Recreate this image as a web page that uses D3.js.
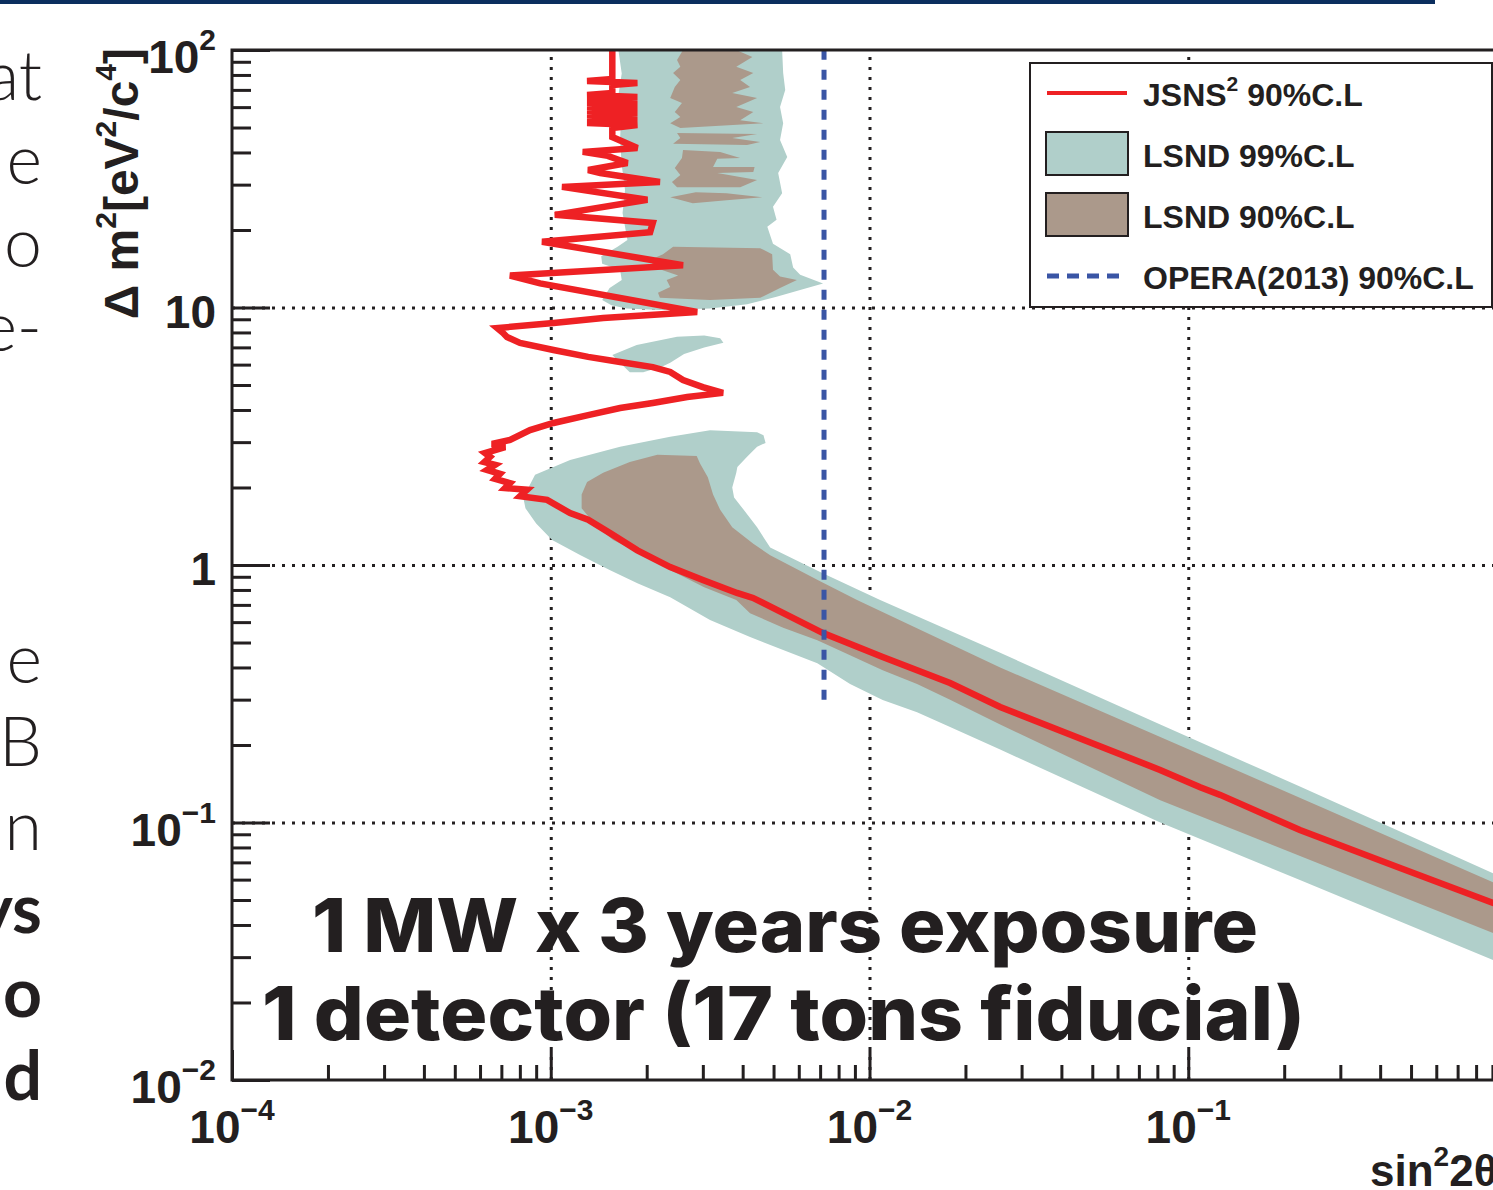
<!DOCTYPE html>
<html>
<head>
<meta charset="utf-8">
<script src="https://cdn.jsdelivr.net/npm/d3@7"></script>
<style>
  body { margin: 0; background: #fff; }
  svg { display: block; }
  .lbl { font-family: "Liberation Sans", Arial, sans-serif; font-weight: bold; fill: #231f20; }
</style>
</head>
<body>
<div id="chart"></div>
<script>
// axis ranges and ticks
const xDomain = [1e-4, 1];
const yDomain = [1e-2, 1e2];
const xMajorTicks = [1e-4, 1e-3, 1e-2, 1e-1];
const xTickExponents = ["\u22124", "\u22123", "\u22122", "\u22121"];
const yMajorTicks = [1e-2, 1e-1, 1, 10, 100];
const yTickBases = ["10", "10", "1", "10", "10"];
const yTickExponents = ["\u22122", "\u22121", "", "", "2"];
const gridX = [1e-3, 1e-2, 1e-1];
const gridY = [1e-1, 1, 10];

// LSND 99% C.L. contours  [sin^2 2theta, dm^2]
const lsnd99Upper = [
  [1.63e-3,100],[1.67e-3,81],[1.63e-3,66.8],[1.66e-3,53.4],[1.65e-3,44.7],[1.67e-3,35.8],[1.71e-3,28.6],
  [1.68e-3,23.3],[1.74e-3,18.3],[1.62e-3,17.2],[1.44e-3,15.8],[1.45e-3,14.8],[1.65e-3,14.0],[1.67e-3,12.8],
  [1.53e-3,11.9],[1.45e-3,10.7],[1.55e-3,10.2],[1.73e-3,9.9],[2.20e-3,9.78],[3.16e-3,9.9],[4.13e-3,10.3],
  [5.11e-3,11.0],[6.06e-3,11.7],[7.15e-3,12.4],[6.06e-3,13.4],[5.76e-3,14.3],[5.64e-3,16.1],[4.98e-3,17.7],
  [4.78e-3,20.6],[5.11e-3,21.9],[4.98e-3,24.6],[5.32e-3,27.8],[5.17e-3,33.3],[5.52e-3,38.4],[5.24e-3,44.7],
  [5.36e-3,52.0],[5.24e-3,60.1],[5.44e-3,69.9],[5.36e-3,81.4],[5.32e-3,100]
];
const lsnd99Island = [
  [1.56e-3,6.54],[1.86e-3,7.15],[2.49e-3,7.7],[3.03e-3,7.78],[3.40e-3,7.6],[3.48e-3,7.3],[3.03e-3,7.0],
  [2.62e-3,6.6],[2.37e-3,6.1],[2.24e-3,5.9],[1.95e-3,5.6],[1.77e-3,5.6],[1.65e-3,6.1]
];
const lsnd99Main = [
  [8.93e-4,2.24],[1.15e-3,2.56],[1.65e-3,2.88],[2.37e-3,3.15],[3.16e-3,3.34],[4.44e-3,3.28],[4.65e-3,3.19],
  [4.72e-3,2.98],[4.44e-3,2.88],[4.13e-3,2.63],[3.85e-3,2.40],[3.82e-3,2.28],[3.71e-3,2.0],[3.76e-3,1.83],
  [4.03e-3,1.64],[4.44e-3,1.40],[4.88e-3,1.17],[7.00e-3,0.94],[1.08e-2,0.731],[2.57e-2,0.456],[8.17e-2,0.240],
  [0.224,0.138],[0.906,0.0635],[1.0,0.0600],
  [1.0,0.0279],[0.906,0.0292],[0.224,0.0598],[8.17e-2,0.100],[2.57e-2,0.192],[1.79e-2,0.235],[1.41e-2,0.268],
  [1.10e-2,0.299],[8.69e-3,0.345],[6.86e-3,0.415],[5.36e-3,0.468],[4.22e-3,0.525],[3.16e-3,0.611],[2.37e-3,0.75],
  [1.87e-3,0.85],[1.53e-3,0.956],[1.24e-3,1.09],[1.01e-3,1.25],[9.0e-4,1.45],[8.33e-4,1.66],[8.2e-4,1.83]
];

// LSND 90% C.L. contours
const lsnd90StripA = [
  [2.60e-3,100],[2.49e-3,91.5],[2.55e-3,86],[2.42e-3,81.4],[2.55e-3,76.4],[2.45e-3,71.8],[2.37e-3,65.1],
  [2.58e-3,62.2],[2.45e-3,57.4],[2.55e-3,54.9],[2.37e-3,52.0],[2.55e-3,49.8],[4.65e-3,52.0],[3.93e-3,53.4],
  [4.32e-3,57.4],[3.82e-3,60.1],[4.44e-3,65.1],[3.71e-3,68.1],[4.22e-3,71.8],[3.93e-3,76.4],[4.32e-3,81.4],
  [3.82e-3,86],[4.29e-3,94.0],[3.82e-3,100]
];
const lsnd90StripB = [
  [2.49e-3,47.6],[4.44e-3,47.2],[3.71e-3,45.5],[4.54e-3,43.9],[4.13e-3,42.8],[2.42e-3,43.2],[2.55e-3,45.5]
];
const lsnd90StripC = [
  [2.60e-3,40.9],[3.40e-3,40.2],[3.93e-3,38.1],[3.33e-3,37.8],[3.23e-3,35.1],[4.36e-3,35.1],[4.32e-3,33.6],
  [3.33e-3,33.3],[4.44e-3,31.3],[3.93e-3,29.3],[2.49e-3,29.3],[2.40e-3,30.7],[2.55e-3,32.7],[2.45e-3,34.8],
  [2.58e-3,38.1]
];
const lsnd90StripD = [
  [2.37e-3,26.8],[2.85e-3,28.0],[3.56e-3,27.8],[4.61e-3,26.8],[3.56e-3,26.1],[2.79e-3,25.4]
];
const lsnd90Blob = [
  [2.42e-3,17.2],[4.54e-3,17.0],[4.95e-3,16.1],[4.98e-3,14.0],[5.24e-3,13.2],[5.92e-3,12.8],[5.24e-3,11.9],
  [4.54e-3,10.9],[3.16e-3,10.7],[2.20e-3,10.9],[2.17e-3,11.4],[2.37e-3,12.0],[2.31e-3,12.8],[2.51e-3,13.3],
  [2.12e-3,14.3],[2.05e-3,15.3],[2.25e-3,16.1]
];
const lsnd90Main = [
  [1.25e-3,1.88],[1.30e-3,2.10],[1.46e-3,2.28],[1.77e-3,2.51],[2.16e-3,2.68],[2.87e-3,2.65],[2.94e-3,2.48],
  [3.11e-3,2.19],[3.23e-3,1.88],[3.40e-3,1.64],[3.71e-3,1.40],[4.32e-3,1.21],[4.88e-3,1.09],[7.00e-3,0.865],
  [9.14e-3,0.731],[2.57e-2,0.40],[8.17e-2,0.215],[0.906,0.0585],[1.0,0.0555],
  [1.0,0.0350],[0.906,0.0372],[8.17e-2,0.122],[2.57e-2,0.240],[1.79e-2,0.30],[1.41e-2,0.345],[1.10e-2,0.39],
  [8.69e-3,0.446],[6.86e-3,0.51],[5.36e-3,0.57],[4.22e-3,0.65],[3.82e-3,0.731],[3.03e-3,0.82],[2.37e-3,0.956],
  [1.87e-3,1.12],[1.57e-3,1.25],[1.40e-3,1.40],[1.25e-3,1.66]
];

// JSNS^2 90% C.L. sensitivity
const jsns2 = [
  [1.56e-3,100],[1.56e-3,77.2],[1.30e-3,75.8],[1.87e-3,74.4],[1.56e-3,73.1],[1.56e-3,68.1],
  [1.30e-3,66.9],[1.87e-3,65.7],[1.30e-3,64.5],[1.87e-3,63.4],[1.30e-3,62.3],[1.87e-3,61.1],[1.30e-3,60.1],
  [1.87e-3,59.0],[1.30e-3,58.0],[1.87e-3,56.9],[1.30e-3,55.9],[1.87e-3,54.9],[1.30e-3,54.0],[1.87e-3,53.0],
  [1.30e-3,52.1],[1.87e-3,51.1],[1.56e-3,49.8],[1.56e-3,45.9],[1.87e-3,41.6],[1.26e-3,40.2],[1.51e-3,38.8],
  [1.74e-3,36.4],[1.31e-3,34.2],[1.43e-3,33.3],[2.20e-3,30.7],[1.085e-3,29.4],[2.01e-3,26.2],[1.03e-3,22.9],
  [2.09e-3,21.3],[2.05e-3,19.6],[9.39e-4,18.0],[2.60e-3,14.6],[7.45e-4,13.3],[9.26e-4,12.4],[2.88e-3,9.60],
  [1.46e-3,9.10],[1.02e-3,8.71],[6.79e-4,8.32],[7.09e-4,7.96],[7.29e-4,7.68],[8.01e-4,7.28],[1.02e-3,6.84],
  [1.31e-3,6.43],[1.65e-3,6.14],[2.09e-3,5.87],[2.37e-3,5.62],[2.60e-3,5.23],[3.00e-3,4.91],[3.47e-3,4.66],
  [2.68e-3,4.49],[2.09e-3,4.26],[1.65e-3,4.07],[1.31e-3,3.82],[1.02e-3,3.56],[8.61e-4,3.34],[7.45e-4,3.06],
  [6.54e-4,2.95],[7.19e-4,2.87],[6.22e-4,2.72],[6.45e-4,2.63],[6.19e-4,2.51],[6.69e-4,2.45],[6.31e-4,2.34],
  [6.93e-4,2.26],[6.69e-4,2.16],[7.45e-4,2.08],[7.19e-4,1.99],[8.43e-4,1.96],[8.01e-4,1.85],[9.74e-4,1.79],
  [1.15e-3,1.59],[1.31e-3,1.50],[1.535e-3,1.33],[1.87e-3,1.14],[2.37e-3,0.982],[3.00e-3,0.874],[3.84e-3,0.779],
  [4.31e-3,0.745],[7.15e-3,0.544],[1.10e-2,0.439],[1.79e-2,0.348],[2.57e-2,0.281],[8.16e-2,0.160],
  [0.109,0.137],[0.126,0.128],[0.224,0.0935],[0.462,0.0666],[0.905,0.0487],[1.0,0.0466]
];

// OPERA (2013) 90% C.L. limit
const operaSin2 = [7.2e-3, 7.2e-3];
const operaDm2 = [0.3, 100];

const legendLabels = ["JSNS", "LSND 99%C.L", "LSND 90%C.L", "OPERA(2013) 90%C.L"];
const slideLines = ["at", "e", "o", "e-", "e", "B", "n", "ys", "o", "d"];
const overlayLines = ["1 MW x 3 years exposure", "1 detector (17 tons fiducial)"];

const teal = "#b0cfca", brown = "#ab998b", red = "#ee2124", blue = "#3a55a5", ink = "#231f20";

const W = 1493, H = 1190;
const svg = d3.select("#chart").append("svg").attr("width", W).attr("height", H);

const x = d3.scaleLog().domain(xDomain).range([232, 1507]);
const y = d3.scaleLog().domain(yDomain).range([1080, 50]);
const [x0, x1] = x.range();
const [y1, y0] = y.range();

// top banner bar of the slide
svg.append("rect").attr("x", 0).attr("y", 0).attr("width", 1435).attr("height", 4).attr("fill", "#0b2e5e");

// slide text cut off at the left
svg.append("g").selectAll("text").data(slideLines).join("text")
  .attr("x", 42).attr("y", (d, i) => i < 4 ? 100 + i * 83.5 : 683 + (i - 4) * 83.4)
  .attr("text-anchor", "end")
  .style("font-family", "Lato, 'Open Sans', sans-serif")
  .style("font-weight", (d, i) => i >= 7 ? 700 : 300)
  .style("font-size", "68px").style("fill", ink)
  .text(d => d);

svg.append("defs").append("clipPath").attr("id", "plotClip").append("rect")
  .attr("x", x0).attr("y", y0).attr("width", x1 - x0).attr("height", y1 - y0);

// grid (dotted)
const grid = svg.append("g");
grid.append("g").attr("transform", `translate(0,${y1})`)
  .call(d3.axisBottom(x).tickValues(gridX).tickSize(-(y1 - y0)).tickFormat(""))
  .call(g => g.select(".domain").remove());
grid.append("g").attr("transform", `translate(${x0},0)`)
  .call(d3.axisLeft(y).tickValues(gridY).tickSize(-(x1 - x0)).tickFormat(""))
  .call(g => g.select(".domain").remove());
grid.selectAll("line").attr("stroke", ink).attr("stroke-width", 3).attr("stroke-dasharray", "3,7");

const line = d3.line().x(d => x(d[0])).y(d => y(d[1]));
const plot = svg.append("g").attr("clip-path", "url(#plotClip)");

plot.selectAll(".c99").data([lsnd99Upper, lsnd99Island, lsnd99Main]).join("path")
  .attr("class", "c99").attr("d", d => line(d) + "Z").attr("fill", teal);
plot.selectAll(".c90").data([lsnd90StripA, lsnd90StripB, lsnd90StripC, lsnd90StripD, lsnd90Blob, lsnd90Main]).join("path")
  .attr("class", "c90").attr("d", d => line(d) + "Z").attr("fill", brown);

plot.append("path").attr("d", line(jsns2)).attr("fill", "none")
  .attr("stroke", red).attr("stroke-width", 6.5).attr("stroke-linejoin", "miter").attr("stroke-miterlimit", 3);

plot.append("path").attr("d", line(d3.zip(operaSin2, operaDm2))).attr("fill", "none")
  .attr("stroke", blue).attr("stroke-width", 5).attr("stroke-dasharray", "10,10");

// axes ticks (inward)
const isMajor = v => Math.abs(Math.log10(v) - Math.round(Math.log10(v))) < 1e-6;
const yMinor = y.ticks().filter(v => !isMajor(v));
const xMinor = x.ticks().filter(v => !isMajor(v));
const axes = svg.append("g");
axes.append("g").attr("transform", `translate(${x0},0)`)
  .call(d3.axisRight(y).tickValues(yMinor).tickSize(19).tickSizeOuter(0).tickFormat(""));
axes.append("g").attr("transform", `translate(${x0},0)`)
  .call(d3.axisRight(y).tickValues(yMajorTicks).tickSize(38).tickSizeOuter(0).tickFormat(""));
axes.append("g").attr("transform", `translate(0,${y1})`)
  .call(d3.axisTop(x).tickValues(xMinor).tickSize(15).tickSizeOuter(0).tickFormat(""));
axes.append("g").attr("transform", `translate(0,${y1})`)
  .call(d3.axisTop(x).tickValues(xMajorTicks).tickSize(30).tickSizeOuter(0).tickFormat(""));
axes.selectAll(".domain").remove();
axes.selectAll("line").attr("stroke", ink).attr("stroke-width", 3);

// frame
svg.append("rect").attr("x", x0).attr("y", y0).attr("width", x1 - x0).attr("height", y1 - y0)
  .attr("fill", "none").attr("stroke", ink).attr("stroke-width", 3);

// tick labels
const xl = svg.append("g").selectAll("text").data(xMajorTicks).join("text")
  .attr("class", "lbl").attr("x", d => x(d)).attr("y", 1143).attr("text-anchor", "middle")
  .style("font-size", "46px");
xl.append("tspan").text("10");
xl.append("tspan").attr("dy", -23).style("font-size", "30px").text((d, i) => xTickExponents[i]);

const yl = svg.append("g").selectAll("text").data(yMajorTicks).join("text")
  .attr("class", "lbl").attr("x", 216).attr("y", (d, i) => y(d) + (yTickExponents[i] ? 23 : 20))
  .attr("text-anchor", "end").style("font-size", "46px");
yl.append("tspan").text((d, i) => yTickBases[i]);
yl.filter((d, i) => yTickExponents[i]).append("tspan").attr("dy", -23).style("font-size", "30px")
  .text(d => yTickExponents[yMajorTicks.indexOf(d)]);

// axis titles
const yt = svg.append("text").attr("class", "lbl").attr("text-anchor", "end")
  .attr("transform", "translate(138,48) rotate(-90)").style("font-size", "48px");
yt.append("tspan").text("\u0394 m");
yt.append("tspan").attr("dy", -22).style("font-size", "30px").text("2");
yt.append("tspan").attr("dy", 22).text("[eV");
yt.append("tspan").attr("dy", -22).style("font-size", "30px").text("2");
yt.append("tspan").attr("dy", 22).text("/c");
yt.append("tspan").attr("dy", -22).style("font-size", "30px").text("4");
yt.append("tspan").attr("dy", 22).text("]");

const xt = svg.append("text").attr("class", "lbl").attr("x", 1370).attr("y", 1186).style("font-size", "44px");
xt.append("tspan").text("sin");
xt.append("tspan").attr("dy", -20).style("font-size", "28px").text("2");
xt.append("tspan").attr("dy", 20).text("2\u03b8");

// legend
const lg = svg.append("g");
lg.append("rect").attr("x", 1030).attr("y", 63).attr("width", 462).attr("height", 244)
  .attr("fill", "#fff").attr("stroke", ink).attr("stroke-width", 2);
const rowY = i => 93 + i * 61;
lg.append("line").attr("x1", 1047).attr("x2", 1127).attr("y1", rowY(0)).attr("y2", rowY(0))
  .attr("stroke", red).attr("stroke-width", 4);
lg.selectAll(".box").data([teal, brown]).join("rect").attr("class", "box")
  .attr("x", 1046).attr("y", (d, i) => rowY(i + 1) - 22).attr("width", 82).attr("height", 43)
  .attr("fill", d => d).attr("stroke", ink).attr("stroke-width", 2);
lg.append("line").attr("x1", 1047).attr("x2", 1120).attr("y1", rowY(3)).attr("y2", rowY(3))
  .attr("stroke", blue).attr("stroke-width", 5).attr("stroke-dasharray", "12,8");
const lt = lg.selectAll(".lt").data(legendLabels).join("text").attr("class", "lbl lt")
  .attr("x", 1143).attr("y", (d, i) => rowY(i) + 13).style("font-size", "32px").text(d => d);
lt.filter((d, i) => i === 0).append("tspan").attr("dy", -15).style("font-size", "21px").text("2");
lt.filter((d, i) => i === 0).append("tspan").attr("dy", 15).text(" 90%C.L");

// overlay text from the slide
svg.append("g").selectAll("text").data(overlayLines).join("text")
  .attr("x", (d, i) => i === 0 ? 312 : 262).attr("y", (d, i) => i === 0 ? 952 : 1040)
  .attr("textLength", (d, i) => i === 0 ? 946 : 1043).attr("lengthAdjust", "spacingAndGlyphs")
  .style("font-family", "Inter, 'Open Sans', sans-serif").style("font-weight", 800)
  .style("font-size", "74px").style("fill", ink)
  .text(d => d);
</script>
</body>
</html>
